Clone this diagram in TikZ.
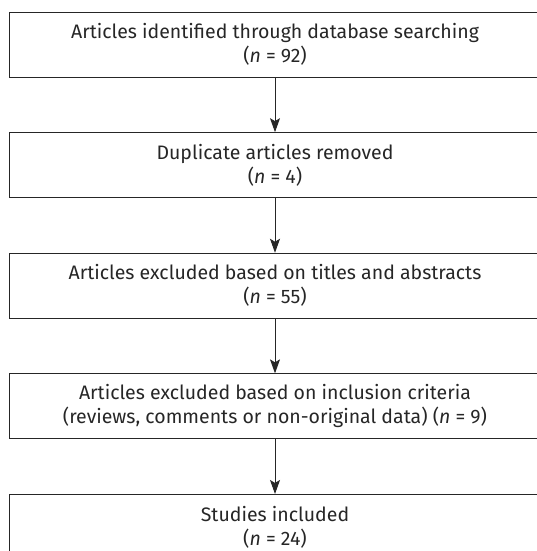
\documentclass[tikz,border=0pt]{standalone}
\usepackage{fontspec}
\setmainfont{Fira Sans}
\usetikzlibrary{positioning,arrows.meta}
\tikzset{
  stepbox/.style={draw=black!85,line width=0.9pt,minimum width=532pt,minimum height=65pt,inner sep=0pt},
  steptext/.style={align=center,font=\fontsize{19.5}{24}\selectfont,text=black!85},
  every edge/.style={draw=black!85,-{Stealth[length=14pt,width=10pt,inset=3pt]},line width=0.9pt},
}

\begin{document}
\begin{tikzpicture}[x=1pt,y=-1pt,node distance=54.7pt]
\useasboundingbox (0,0) rectangle (537,551);

\node[stepbox] (s1) at (275,44.5) {};
\node[stepbox,below=of s1] (s2) {};
\node[stepbox,below=of s2] (s3) {};
\node[stepbox,below=of s3] (s4) {};
\node[stepbox,below=of s4] (s5) {};

\node[steptext] (t1) at (s1) {Articles identified through database searching\\(\textit{n} = 92)};
\node[steptext] (t2) at (s2) {Duplicate articles removed\\(\textit{n} = 4)};
\node[steptext] (t3) at (s3) {Articles excluded based on titles and abstracts\\(\textit{n} = 55)};
\node[steptext] (t4) at (s4) {Articles excluded based on inclusion criteria\\(reviews, comments or non-original data) (\textit{n} = 9)};
\node[steptext] (t5) at (s5) {Studies included\\(\textit{n} = 24)};

\draw (s1.south) edge (s2.north)
      (s2.south) edge (s3.north)
      (s3.south) edge (s4.north)
      (s4.south) edge (s5.north);

\end{tikzpicture}
\end{document}
